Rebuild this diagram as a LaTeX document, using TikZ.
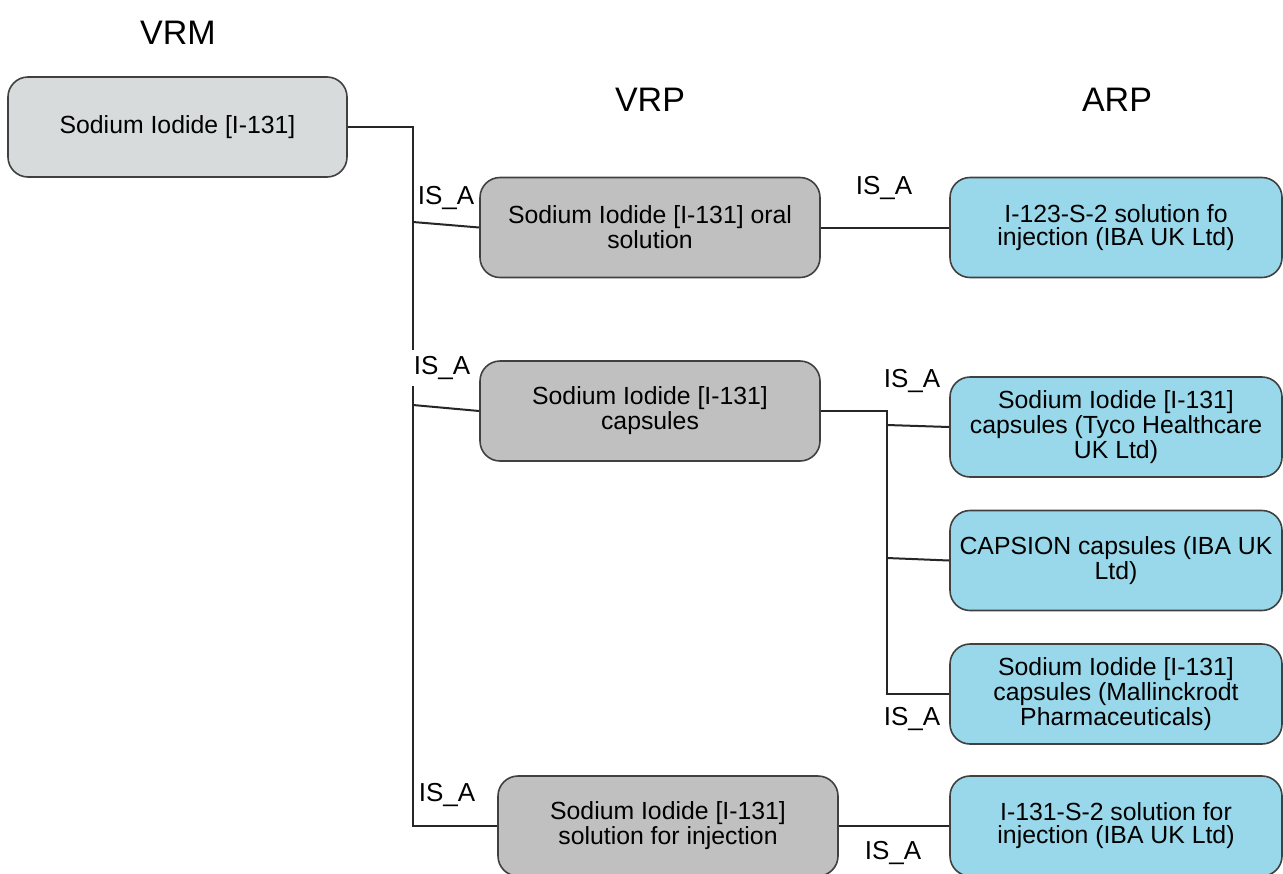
\documentclass[tikz,border=0pt]{standalone}
\usepackage{fontspec}
\setmainfont{Liberation Sans}
\usetikzlibrary{positioning}
\definecolor{vrmgray}{HTML}{D7DBDB}
\definecolor{vrpgray}{HTML}{C0C0C0}
\definecolor{arpblue}{HTML}{99D8EA}

\begin{document}
\begin{tikzpicture}[x=0.5pt,y=-0.5pt,
    box/.style={rectangle,rounded corners=10pt,draw=black!75,line width=0.8pt,
        minimum height=50pt,align=center,inner sep=1pt,
        font=\fontsize{12.4}{11.5}\selectfont},
    vrmbox/.style={box,fill=vrmgray,minimum width=169.5pt},
    vrpbox/.style={box,fill=vrpgray,minimum width=170pt},
    arpbox/.style={box,fill=arpblue,minimum width=166pt},
    isa/.style={font=\fontsize{13}{13}\selectfont,inner sep=1pt},
    head/.style={font=\fontsize{17}{17}\selectfont},
    link/.style={line width=1pt,black!85}]
    \useasboundingbox (0,0) rectangle (1283,873);

    % column headers
    \node [head] (hvrm) at (178,33) {VRM};
    \node [head] (hvrp) at (650,100) {VRP};
    \node [head] (harp) at (1117,100) {ARP};

    % boxes
    \node [vrmbox] (m) at (177.5,127) {Sodium Iodide [I-131]};
    \node [vrpbox] (p1) at (650,227.5) {Sodium Iodide [I-131] oral\\solution};
    \node [vrpbox] (p2) at (650,411) {Sodium Iodide [I-131]\\capsules};
    \node [vrpbox] (p3) at (668,826) {Sodium Iodide [I-131]\\solution for injection};
    \node [arpbox] (a1) at (1116,227.5) {I-123-S-2 solution fo\\injection (IBA UK Ltd)};
    \node [arpbox] (a2) at (1116,427) {Sodium Iodide [I-131]\\capsules (Tyco Healthcare\\UK Ltd)};
    \node [arpbox] (a3) at (1116,560.5) {CAPSION capsules (IBA UK\\Ltd)};
    \node [arpbox] (a4) at (1116,694) {Sodium Iodide [I-131]\\capsules (Mallinckrodt\\Pharmaceuticals)};
    \node [arpbox] (a5) at (1116,826) {I-131-S-2 solution for\\injection (IBA UK Ltd)};

    % left bus
    \coordinate (b0) at (413,127);
    \coordinate (b1) at (413,222);
    \coordinate (b2) at (413,405);
    \coordinate (b3) at (413,826);
    \draw [link] (m.east) -- (b0) -- (b3) -- (p3.west);
    \draw [link] (b1) -- (p1.west);
    \draw [link] (b2) -- (p2.west);

    % right bus
    \coordinate (c0) at (887,411);
    \coordinate (c1) at (887,425);
    \coordinate (c2) at (887,558);
    \coordinate (c3) at (887,694);
    \draw [link] (p2.east) -- (c0) -- (c3) -- (a4.west);
    \draw [link] (c1) -- (a2.west);
    \draw [link] (c2) -- (a3.west);
    \draw [link] (p1.east) -- (a1.west);
    \draw [link] (p3.east) -- (a5.west);

    % relation labels
    \node [isa] (l1) at (446,198) {IS\_A};
    \node [isa] (l2) at (884,188) {IS\_A};
    \node [isa,fill=white,inner sep=3pt] (l3) at (442,368) {IS\_A};
    \node [isa] (l4) at (912,381) {IS\_A};
    \node [isa] (l5) at (912,719) {IS\_A};
    \node [isa] (l6) at (447,795) {IS\_A};
    \node [isa] (l7) at (893,853) {IS\_A};
\end{tikzpicture}
\end{document}
